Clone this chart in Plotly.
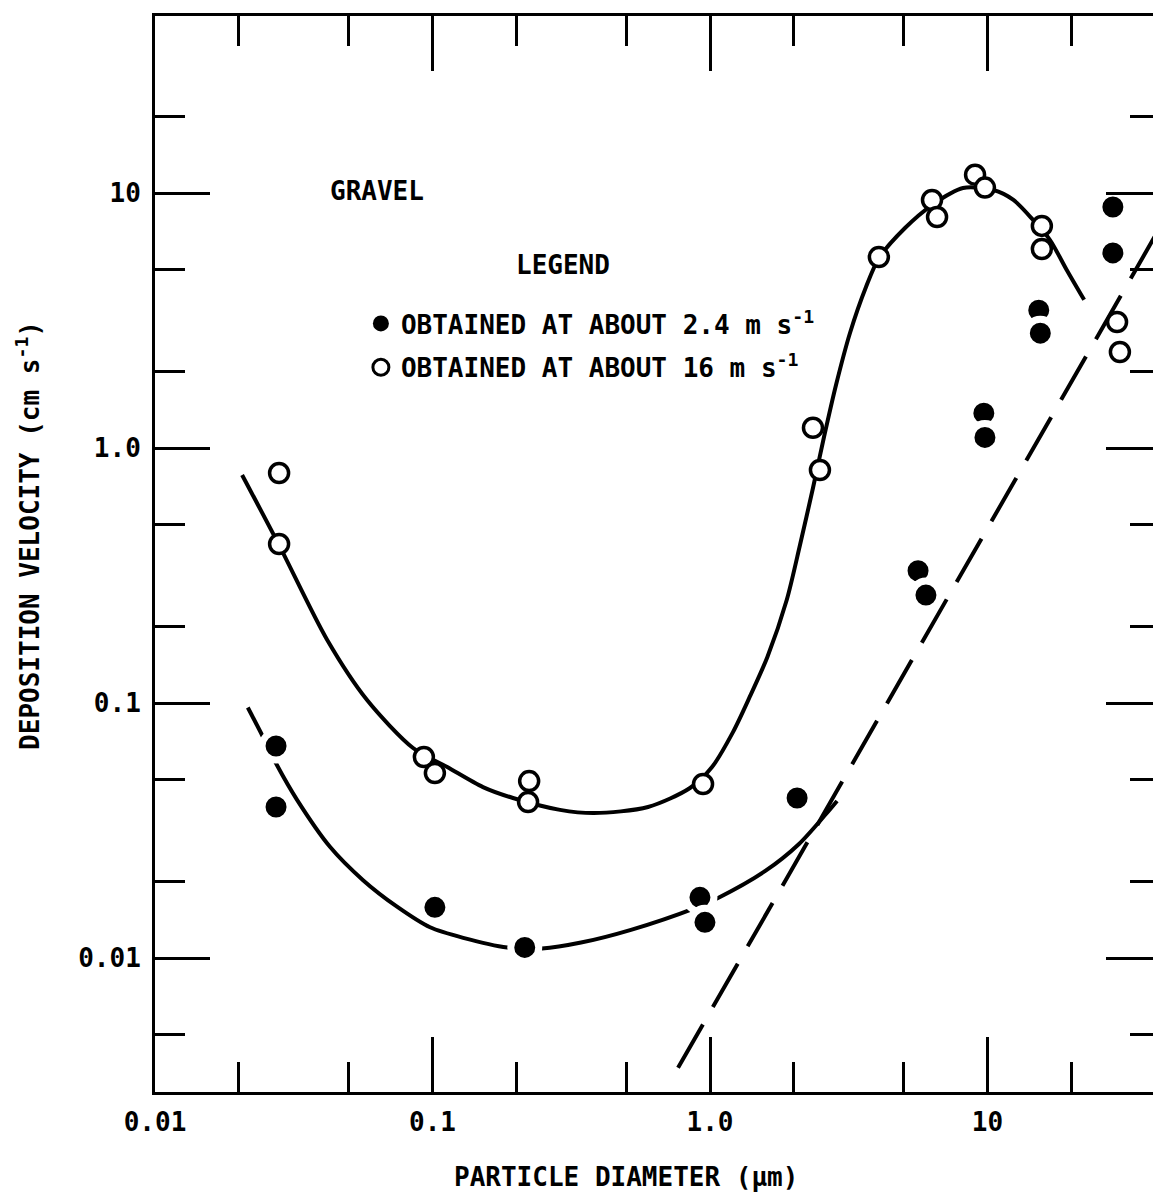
import plotly.graph_objects as go

# Particle diameter (µm) vs deposition velocity (cm/s) on gravel

# measurements at about 16 m/s (open circles)
open_d = [0.0280, 0.0280, 0.0931, 0.102, 0.223, 0.221, 0.944, 2.35, 2.49,
          4.06, 6.31, 6.58, 9.02, 9.79, 15.7, 15.7, 29.3, 30.0]
open_v = [0.798, 0.420, 0.0614, 0.0531, 0.0494, 0.0409, 0.0481, 1.20, 0.82,
          5.61, 9.39, 8.05, 11.8, 10.5, 7.43, 6.03, 3.12, 2.38]

# measurements at about 2.4 m/s (filled circles)
filled_d = [0.0273, 0.0273, 0.102, 0.215, 0.920, 0.959, 2.06, 5.62, 6.00,
            9.70, 9.79, 15.3, 15.5, 28.3, 28.3]
filled_v = [0.0678, 0.0391, 0.0158, 0.0110, 0.0173, 0.0138, 0.0424, 0.330,
            0.265, 1.37, 1.10, 3.47, 2.82, 8.81, 5.82]

# hand-fitted curve through the 16 m/s data
fit16_d = [0.0206, 0.0280, 0.0417, 0.0581, 0.0851, 0.113, 0.152, 0.195, 0.288,
           0.382, 0.598, 0.847, 1.017, 1.21, 1.39, 1.61, 1.89, 2.11, 2.35,
           2.575, 2.845, 3.195, 3.649, 4.064, 5.043, 6.31, 8.16, 10.5, 12.4,
           14.6, 16.8, 19.3, 22.3]
fit16_v = [0.784, 0.416, 0.177, 0.1027, 0.0666, 0.0561, 0.0468, 0.0424, 0.0381,
           0.0370, 0.0391, 0.0464, 0.0561, 0.0769, 0.1056, 0.1515, 0.2534,
           0.4164, 0.697, 1.104, 1.766, 2.825, 4.279, 5.56, 7.29, 8.97, 10.46,
           10.27, 9.39, 7.84, 6.54, 4.99, 3.81]

# hand-fitted curve through the 2.4 m/s data
fit24_d = [0.0216, 0.0243, 0.0275, 0.0325, 0.0427, 0.0562, 0.0745, 0.0980,
           0.129, 0.186, 0.248, 0.343, 0.519, 0.883, 1.069, 1.578, 2.093,
           2.618, 2.870]
fit24_v = [0.0960, 0.0749, 0.0571, 0.0417, 0.0273, 0.0202, 0.0159, 0.0132,
           0.0120, 0.0110, 0.0109, 0.0115, 0.0129, 0.0157, 0.0172, 0.0219,
           0.0280, 0.0367, 0.0413]

# gravitational settling line
settle_d = [0.767, 40.0]
settle_v = [0.00371, 6.73]

x_major = [0.01, 0.1, 1, 10]
x_major_text = ["0.01", "0.1", "1.0", "10"]
x_minor = [0.02, 0.05, 0.2, 0.5, 2, 5, 20]
y_major = [0.01, 0.1, 1, 10]
y_major_text = ["0.01", "0.1", "1.0", "10"]
y_minor = [0.005, 0.02, 0.05, 0.2, 0.5, 2, 5, 20]

FONT = "DejaVu Sans Mono"
INK = "black"
TXT = dict(family=FONT, size=26, color=INK, weight="bold")

fig = go.Figure()

fig.add_trace(go.Scatter(x=fit16_d, y=fit16_v, mode="lines",
                         line=dict(color=INK, width=4, shape="spline", smoothing=0.8),
                         showlegend=False, hoverinfo="skip"))
fig.add_trace(go.Scatter(x=fit24_d, y=fit24_v, mode="lines",
                         line=dict(color=INK, width=4, shape="spline", smoothing=0.8),
                         showlegend=False, hoverinfo="skip"))
fig.add_trace(go.Scatter(x=settle_d, y=settle_v, mode="lines",
                         line=dict(color=INK, width=4, dash="50px,20px"),
                         showlegend=False, hoverinfo="skip"))

# filled dots carry a white rim so the fitted line breaks around them
fig.add_trace(go.Scatter(x=filled_d, y=filled_v, mode="markers",
                         marker=dict(symbol="circle", size=28, color=INK,
                                     line=dict(color="white", width=7)),
                         showlegend=False))
fig.add_trace(go.Scatter(x=open_d, y=open_v, mode="markers",
                         marker=dict(symbol="circle", size=19, color="white",
                                     line=dict(color=INK, width=3.5)),
                         showlegend=False))

# legend entries
fig.add_trace(go.Scatter(x=[None], y=[None], mode="markers",
                         name="OBTAINED AT ABOUT 2.4 m s<sup>-1</sup>",
                         legendgroup="a",
                         marker=dict(symbol="circle", size=16, color=INK)))
fig.add_trace(go.Scatter(x=[None], y=[None], mode="markers",
                         name="OBTAINED AT ABOUT 16 m s<sup>-1</sup>",
                         legendgroup="b",
                         marker=dict(symbol="circle", size=16, color="white",
                                     line=dict(color=INK, width=3))))

# overlay axis carrying the tick marks on the right-hand side
fig.add_trace(go.Scatter(x=[None], y=[None], yaxis="y2", showlegend=False))

fig.update_layout(
    width=1153, height=1196,
    margin=dict(l=155, r=0, t=16, b=104),
    paper_bgcolor="white", plot_bgcolor="white",
    font=TXT,
    showlegend=True,
    legend=dict(x=0.2063, y=0.736, xanchor="left", yanchor="top",
                bgcolor="rgba(0,0,0,0)", font=TXT,
                traceorder="grouped", tracegroupgap=7, itemsizing="trace"),
    xaxis=dict(type="log", range=[-2, 1.5964], showgrid=False, zeroline=False,
               showline=True, linecolor=INK, linewidth=3, mirror="ticks",
               ticks="inside", ticklen=55, tickwidth=3, tickcolor=INK,
               tickmode="array", tickvals=x_major, ticktext=x_major_text,
               tickfont=TXT, ticklabelstandoff=5,
               minor=dict(tickmode="array", tickvals=x_minor, ticks="inside",
                          ticklen=30, tickwidth=3, tickcolor=INK, showgrid=False)),
    yaxis=dict(type="log", range=[-2.5255, 1.6941], showgrid=False, zeroline=False,
               showline=True, linecolor=INK, linewidth=3, mirror=False,
               ticks="inside", ticklen=55, tickwidth=3, tickcolor=INK,
               tickmode="array", tickvals=y_major, ticktext=y_major_text,
               tickfont=TXT, ticklabelstandoff=6,
               minor=dict(tickmode="array", tickvals=y_minor, ticks="inside",
                          ticklen=30, tickwidth=3, tickcolor=INK, showgrid=False)),
    yaxis2=dict(type="log", range=[-2.5255, 1.6941], overlaying="y", side="right",
                anchor="x", showgrid=False, zeroline=False, showline=False,
                showticklabels=False, ticks="inside", ticklen=47, tickwidth=3,
                tickcolor=INK, tickmode="array", tickvals=y_major,
                minor=dict(tickmode="array", tickvals=y_minor, ticks="inside",
                           ticklen=23, tickwidth=3, tickcolor=INK, showgrid=False)),
    annotations=[
        dict(text="GRAVEL", x=0.2224, y=0.8374, xref="paper", yref="paper",
             xanchor="center", yanchor="middle", showarrow=False, font=TXT),
        dict(text="LEGEND", x=0.4088, y=0.7686, xref="paper", yref="paper",
             xanchor="center", yanchor="middle", showarrow=False, font=TXT),
        dict(text="PARTICLE DIAMETER (µm)", x=0.472, y=-0.079,
             xref="paper", yref="paper", xanchor="center", yanchor="middle",
             showarrow=False, font=TXT),
        dict(text="DEPOSITION VELOCITY (cm s<sup>-1</sup>)", x=-0.1273, y=0.5177,
             xref="paper", yref="paper", xanchor="center", yanchor="middle",
             textangle=-90, showarrow=False, font=TXT),
    ],
)

fig.write_html("out.html")
